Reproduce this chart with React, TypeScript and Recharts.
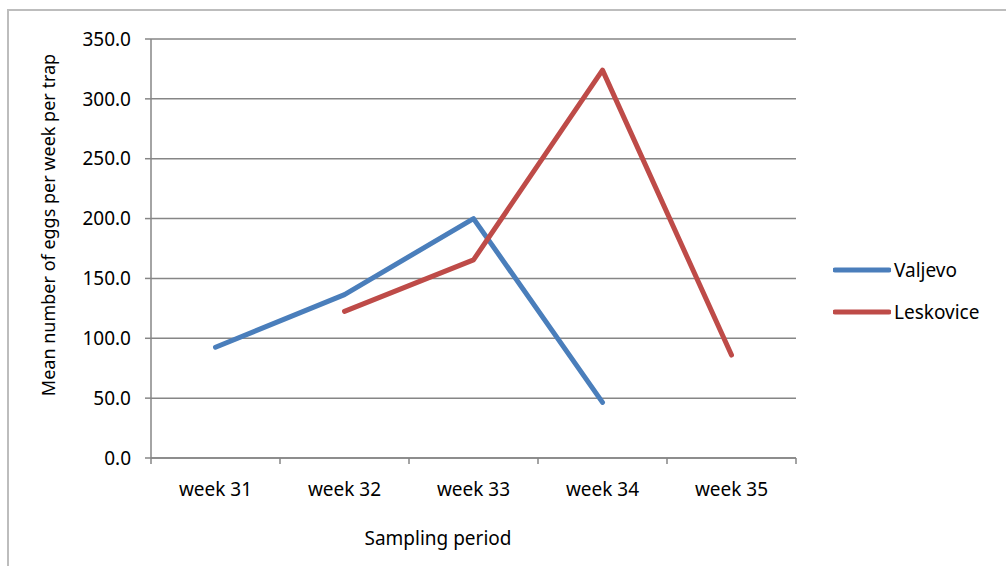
import { LineChart, Line, XAxis, YAxis, CartesianGrid, Legend } from "recharts";

// Mean egg counts per trap per week, two sampling sites. Leskovice has no week 31 sample.
const weeks = ["week 31", "week 32", "week 33", "week 34", "week 35"];
const valjevo: (number | null)[] = [92.5, 136.5, 200.0, 46.5, null];
const leskovice: (number | null)[] = [null, 122.5, 165.5, 324.0, 86.0];
const yTicks = [0, 50, 100, 150, 200, 250, 300, 350];

const series = [
  { key: "Valjevo", color: "#4A7EBB", values: valjevo },
  { key: "Leskovice", color: "#BE4B48", values: leskovice },
];

const data = weeks.map((week, i) => {
  const row: Record<string, string | number | null> = { week };
  for (const s of series) row[s.key] = s.values[i];
  return row;
});

const FONT = "'Noto Sans', 'Open Sans', sans-serif";
const GRID = "#868686";
const BAND = 129; // plot width / category count, Excel puts tick marks between categories

function WeekTick(props: any) {
  const { x, y, payload, index } = props;
  const half = BAND / 2;
  return (
    <g>
      <line x1={x - half} y1={y - 14} x2={x - half} y2={y - 8} stroke={GRID} strokeWidth={1.5} />
      {index === weeks.length - 1 && (
        <line x1={x + half} y1={y - 14} x2={x + half} y2={y - 8} stroke={GRID} strokeWidth={1.5} />
      )}
      <text x={x} y={y + 24} textAnchor="middle" fontSize={19} fontFamily={FONT} fill="#000">
        {payload.value}
      </text>
    </g>
  );
}

function LegendBox() {
  return (
    <div style={{ fontFamily: FONT, fontSize: 19, color: "#000" }}>
      {series.map((s) => (
        <div key={s.key} style={{ display: "flex", alignItems: "center", height: 42 }}>
          <svg width={58} height={8} style={{ marginRight: 3 }}>
            <line x1={2} y1={4} x2={56} y2={4} stroke={s.color} strokeWidth={5} strokeLinecap="round" />
          </svg>
          <span>{s.key}</span>
        </div>
      ))}
    </div>
  );
}

export default function App() {
  return (
    <div style={{ position: "absolute", left: 0, top: 0, width: 1006, height: 566, overflow: "hidden", background: "#fff" }}>
      <div style={{ position: "absolute", left: 7, top: 9, width: 1100, height: 700, borderTop: "2px solid #bdbdbd", borderLeft: "2px solid #bdbdbd" }} />
      <LineChart
        width={1006}
        height={566}
        data={data}
        margin={{ top: 39, right: 40, bottom: 0, left: 91 }}
        style={{ position: "absolute", left: 0, top: 0 }}
      >
        <CartesianGrid vertical={false} stroke={GRID} strokeWidth={1.5} />
        <XAxis
          dataKey="week"
          scale="band"
          stroke={GRID}
          strokeWidth={1.5}
          tickLine={false}
          tickSize={6}
          tickMargin={8}
          tick={<WeekTick />}
          interval={0}
          height={108}
          label={{
            content: () => (
              <text x={438} y={545} textAnchor="middle" fontSize={19} fontFamily={FONT} fill="#000">
                Sampling period
              </text>
            ),
          }}
        />
        <YAxis
          domain={[0, 350]}
          ticks={yTicks}
          width={60}
          stroke={GRID}
          strokeWidth={1.5}
          tickSize={6}
          tickMargin={14}
          tickFormatter={(v: number) => v.toFixed(1)}
          tick={{ fill: "#000", fontSize: 19, fontFamily: FONT }}
          label={{
            content: () => (
              <text
                x={48}
                y={225}
                transform="rotate(-90 48 225)"
                textAnchor="middle"
                dominantBaseline="central"
                fontSize={18}
                fontFamily={FONT}
                fill="#000"
              >
                Mean number of eggs per week per trap
              </text>
            ),
          }}
        />
        <Legend
          layout="vertical"
          align="right"
          verticalAlign="top"
          wrapperStyle={{ left: 833, top: 249, width: 170 }}
          content={() => <LegendBox />}
        />
        {series.map((s) => (
          <Line
            key={s.key}
            dataKey={s.key}
            type="linear"
            stroke={s.color}
            strokeWidth={5}
            strokeLinecap="round"
            strokeLinejoin="round"
            dot={false}
            activeDot={false}
            isAnimationActive={false}
          />
        ))}
      </LineChart>
    </div>
  );
}
